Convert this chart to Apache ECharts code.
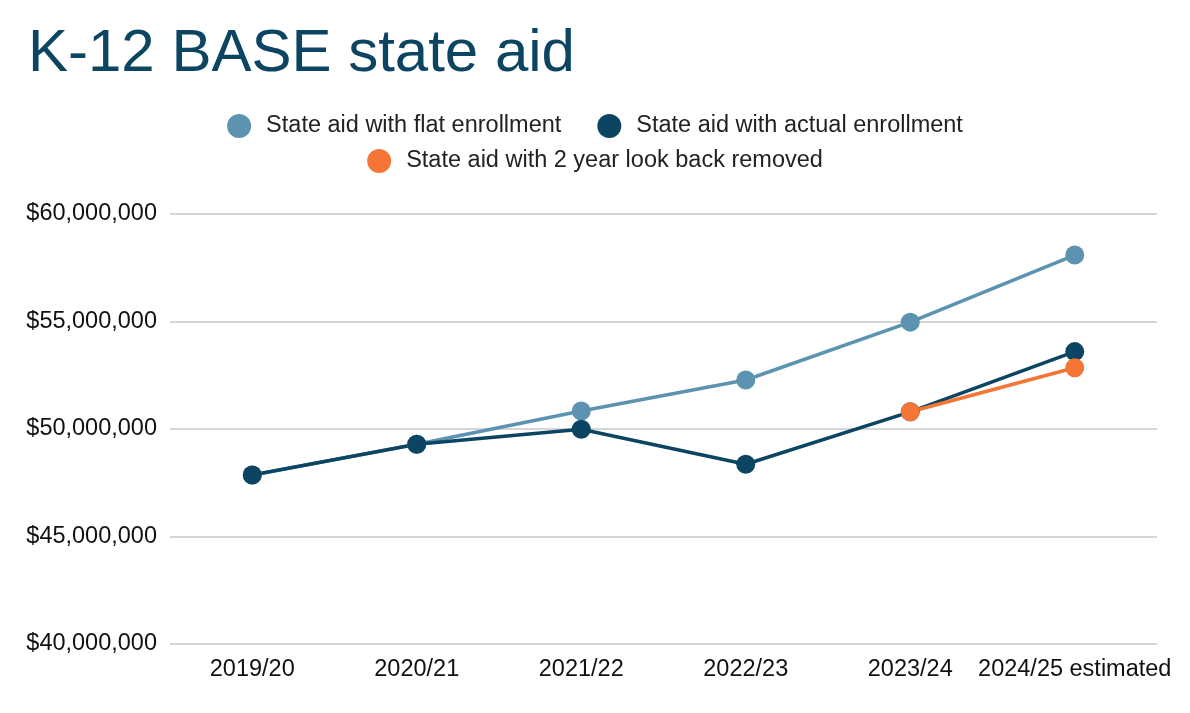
<!DOCTYPE html>
<html>
<head>
<meta charset="utf-8">
<script src="https://cdn.jsdelivr.net/npm/echarts@6/dist/echarts.min.js"></script>
<style>
html,body{margin:0;padding:0;background:#fff;}
#main{width:1190px;height:713px;}
</style>
</head>
<body>
<div id="main"></div>
<script>
const categories = ['2019/20','2020/21','2021/22','2022/23','2023/24','2024/25 estimated'];
const flatEnrollment = [47860000, 49290000, 50840000, 52280000, 54970000, 58090000];
const actualEnrollment = [47860000, 49290000, 49990000, 48360000, 50800000, 53600000];
const lookBackRemoved = [null, null, null, null, 50800000, 52850000];
const seriesNames = ['State aid with flat enrollment','State aid with actual enrollment','State aid with 2 year look back removed'];

const chart = echarts.init(document.getElementById('main'));
const fontFamily = 'Liberation Sans, Arial, sans-serif';
const colors = ['#5b93b1','#0b4562','#f47536'];

function lineSeries(name, data, color) {
  return {
    name: name, type: 'line', data: data,
    symbol: 'circle', symbolSize: 19,
    lineStyle: {width: 3.5, color: color},
    itemStyle: {color: color},
    connectNulls: false,
    animation: false
  };
}

const legendText = {fontFamily: fontFamily, fontSize: 23.5, color: '#222', padding: [0, 0, 0, 10]};

chart.setOption({
  animation: false,
  color: colors,
  title: {
    text: 'K-12 BASE state aid',
    left: 23, top: 19,
    textStyle: {fontFamily: fontFamily, fontSize: 60, fontWeight: 'normal', color: '#0b4562'}
  },
  legend: [
    {
      data: [seriesNames[0], seriesNames[1]],
      top: 109, left: 'center',
      icon: 'circle', itemWidth: 24, itemHeight: 24, itemGap: 36,
      textStyle: legendText
    },
    {
      data: [seriesNames[2]],
      top: 144, left: 'center',
      icon: 'circle', itemWidth: 24, itemHeight: 24,
      textStyle: legendText
    }
  ],
  grid: {left: 170, right: 33, top: 214, bottom: 69, containLabel: false},
  xAxis: {
    type: 'category', data: categories, boundaryGap: true,
    axisLine: {show: false}, axisTick: {show: false},
    axisLabel: {fontFamily: fontFamily, fontSize: 23.5, color: '#111', margin: 14, interval: 0}
  },
  yAxis: {
    type: 'value', min: 40000000, max: 60000000, interval: 5000000,
    axisLine: {show: false}, axisTick: {show: false},
    splitLine: {lineStyle: {color: '#c8c8c8', width: 1.5}},
    axisLabel: {
      fontFamily: fontFamily, fontSize: 23.5, color: '#111', margin: 13,
      formatter: v => '$' + v.toLocaleString('en-US')
    }
  },
  series: [
    lineSeries(seriesNames[0], flatEnrollment, colors[0]),
    lineSeries(seriesNames[1], actualEnrollment, colors[1]),
    lineSeries(seriesNames[2], lookBackRemoved, colors[2])
  ]
});
</script>
</body>
</html>
